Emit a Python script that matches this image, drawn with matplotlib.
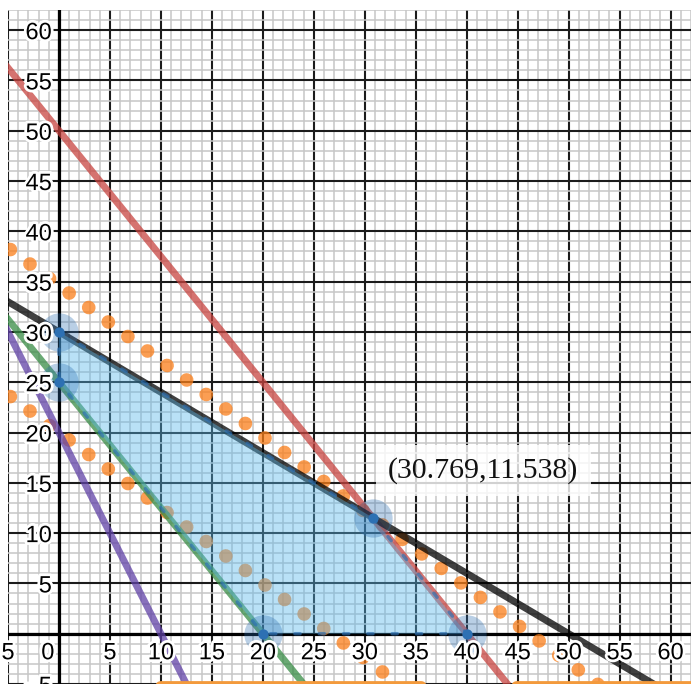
import matplotlib
matplotlib.use("Agg")
import matplotlib.pyplot as plt
import matplotlib.patheffects as pe
from matplotlib.patches import FancyBboxPatch
import numpy as np

# constraint lines  y = slope * x + intercept
line_colors = ["#c74440", "#000000", "#388c46", "#6042a6"]
line_slopes = [-1.25, -0.6, -1.25, -2.0]
line_intercepts = [50, 30, 25, 20]

# objective level lines (dotted orange)
obj_slope = -0.75
obj_intercepts = [34.615, 20]

# feasible region corners
region_x = [0, 30.769, 40, 20, 0]
region_y = [30, 11.538, 0, 0, 25]

# highlighted points
point_x = [0, 0, 20, 40, 30.769]
point_y = [30, 25, 0, 0, 11.538]

label_text = "(30.769,11.538)"

x_ticks = [-5, 5, 10, 15, 20, 25, 30, 35, 40, 45, 50, 55, 60]
y_ticks = [-5, 5, 10, 15, 20, 25, 30, 35, 40, 45, 50, 55, 60]

xmin, xmax = -4.86, 61.6
ymin, ymax = -3.74, 61.76

fig = plt.figure(figsize=(6.91, 6.84), dpi=100)
ax = fig.add_axes([8 / 691, 0, 683 / 691, 674 / 684])
ax.set_xlim(xmin, xmax)
ax.set_ylim(ymin, ymax)

# grid
ax.set_xticks(np.arange(-5, 65, 5))
ax.set_yticks(np.arange(-5, 65, 5))
ax.set_xticks(np.arange(-5, 63, 1), minor=True)
ax.set_yticks(np.arange(-5, 63, 1), minor=True)
ax.grid(which="minor", color="#c6c6c6", lw=1.1, zorder=0)
ax.grid(which="major", color="#1c1c1c", lw=1.5, zorder=0.5)
ax.tick_params(which="both", length=0, labelbottom=False, labelleft=False)
for s in ax.spines.values():
    s.set_visible(False)
ax.set_axisbelow(True)
ax.axhline(0, color="black", lw=2.3, zorder=1)
ax.axvline(0, color="black", lw=2.3, zorder=1)

# dotted objective lines
xs = np.array([-4.77, 70])
for b in obj_intercepts:
    ax.plot(xs, obj_slope * xs + b, color="#fa7e19", alpha=0.75, lw=9.8,
            linestyle=(0, (0.01, 1.78)), dash_capstyle="round", zorder=2)

# constraint lines
xl = np.array([xmin - 5, xmax + 5])
for c, m, b in zip(line_colors, line_slopes, line_intercepts):
    ax.plot(xl, m * xl + b, color=c, alpha=0.75, lw=5, solid_capstyle="butt", zorder=3)

# feasible region
ax.fill(region_x, region_y, color="#5ab8ea", alpha=0.42, lw=0, zorder=4)
ax.plot(region_x + region_x[:1], region_y + region_y[:1], color="#2d70b3", alpha=0.65,
        lw=2.5, linestyle=(0, (1.5, 5.5)), dash_capstyle="round", zorder=4.5)

# points
ax.scatter(point_x, point_y, s=760, color="#2d70b3", alpha=0.33, lw=0, zorder=5)
ax.scatter(point_x, point_y, s=55, color="#2d70b3", lw=0, zorder=6)

ax.text(32.3, 16.2, label_text, ha="left", va="center", fontsize=21.5,
        family="Liberation Serif", color="#111111", zorder=7,
        bbox=dict(boxstyle="square,pad=0.4", fc="white", ec="none", alpha=0.8))

# tick labels (minus sign hangs left of the centred digits)
halo = [pe.withStroke(linewidth=4, foreground="white")]
lab_font = dict(fontsize=17, family="Liberation Sans", color="black", zorder=8, path_effects=halo)
for t in x_ticks:
    ax.text(t, -0.85, str(abs(t)), ha="center", va="top", **lab_font)
    if t < 0:
        ax.annotate("\u2212", (t, -0.85), xytext=(-5, 0), textcoords="offset points",
                    ha="right", va="top", **lab_font)
ax.text(-0.45, -0.85, "0", ha="right", va="top", **lab_font)
for t in y_ticks:
    ax.text(-0.7, t - 0.3, str(t).replace("-", "\u2212"), ha="right", va="center", **lab_font)

# orange box tops peeking in at the bottom edge
for x0, w in [(157, 268), (513, 200)]:
    fig.patches.append(FancyBboxPatch((x0 / 691, -0.05), w / 691, 0.052,
                                      boxstyle="round,pad=0,rounding_size=0.006",
                                      transform=fig.transFigure, fc="white",
                                      ec="#f39a3c", lw=2.2, zorder=10))

fig.savefig("out.png", dpi=100)
